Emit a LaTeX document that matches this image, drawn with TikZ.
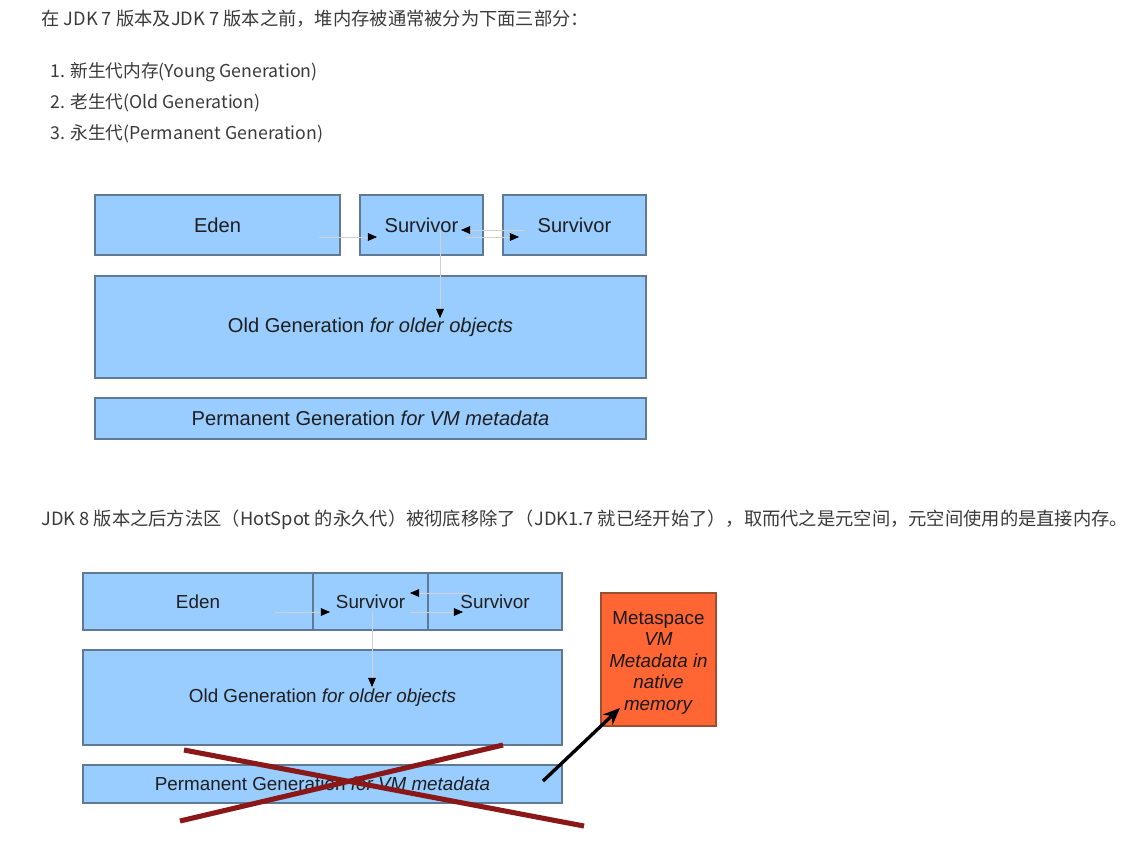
\documentclass[tikz,border=0pt]{standalone}
\usepackage{fontspec}
\setmainfont{Liberation Sans}
\newfontfamily\cjk{Noto Sans CJK SC}
\usepackage{tikz}
\usetikzlibrary{arrows.meta}
\definecolor{heapblue}{HTML}{99CCFF}
\definecolor{heapedge}{HTML}{5F7A94}
\definecolor{metaorange}{HTML}{FF6633}
\definecolor{metaedge}{HTML}{9A5030}
\definecolor{crossred}{HTML}{8B1818}
\definecolor{paragray}{HTML}{3A3A3A}

\begin{document}
\begin{tikzpicture}[x=0.025cm,y=-0.025cm,
		heap/.style={draw=heapedge,fill=heapblue,line width=0.9pt,inner sep=0pt,text=black!88},
		bigtext/.style={font=\fontsize{14.3}{17}\selectfont},
		smalltext/.style={font=\fontsize{13.4}{16}\selectfont},
		para/.style={anchor=west,inner sep=0pt,text=paragray,font=\cjk\fontsize{12.6}{15}\selectfont},
		flow/.style={draw=black!18,line width=0.4pt,-{Triangle[length=6.5pt,width=5.5pt,color=black]}}]
		\useasboundingbox (0,0) rectangle (1128,857);
		% texts
		\node[para,font=\cjk\fontsize{13}{15}\selectfont] (title7) at (41,19) {在 JDK 7 版本及JDK 7 版本之前，堆内存被通常被分为下面三部分：};
		\node[para] (item1) at (50,72) {1. 新生代内存(Young Generation)};
		\node[para] (item2) at (50,103) {2. 老生代(Old Generation)};
		\node[para] (item3) at (50,134) {3. 永生代(Permanent Generation)};
		\node[para,font=\cjk\fontsize{13}{15}\selectfont] (title8) at (41,520) {JDK 8 版本之后方法区（HotSpot 的永久代）被彻底移除了（JDK1.7 就已经开始了），取而代之是元空间，元空间使用的是直接内存。};
		% jdk 7 heap
		\node[heap,bigtext,minimum width=6.125cm,minimum height=1.5cm] (eden7) at (217.5,225) {Eden};
		\node[heap,bigtext,minimum width=3.075cm,minimum height=1.5cm] (survA7) at (421.5,225) {Survivor};
		\node[heap,bigtext,minimum width=3.575cm,minimum height=1.5cm] (survB7) at (574.5,225) {Survivor};
		\node[heap,bigtext,minimum width=13.775cm,minimum height=2.55cm] (old7) at (370.5,327) {Old Generation \textit{for older objects}};
		\node[heap,bigtext,minimum width=13.775cm,minimum height=1.025cm] (perm7) at (370.5,418.5) {Permanent Generation \textit{for VM metadata}};
		% jdk 7 arrows
		\coordinate (edenout7) at (319,237);
		\coordinate (survin7) at (377,237);
		\coordinate (backout7) at (524,230);
		\coordinate (backin7) at (461,230);
		\coordinate (fwdout7) at (466,237);
		\coordinate (fwdin7) at (519,237);
		\coordinate (downout7) at (440,230);
		\coordinate (downin7) at (440,318);
		\draw[flow] (edenout7)--(survin7);
		\draw[flow] (backout7)--(backin7);
		\draw[flow] (fwdout7)--(fwdin7);
		\draw[flow] (downout7)--(downin7);
		% jdk 8 heap
		\node[heap,smalltext,minimum width=5.75cm,minimum height=1.425cm] (eden8) at (198,601.5) {Eden};
		\node[heap,smalltext,minimum width=2.875cm,minimum height=1.425cm] (survA8) at (370.5,601.5) {Survivor};
		\node[heap,smalltext,minimum width=3.35cm,minimum height=1.425cm] (survB8) at (495,601.5) {Survivor};
		\node[heap,smalltext,minimum width=11.975cm,minimum height=2.375cm] (old8) at (322.5,697.5) {Old Generation \textit{for older objects}};
		\node[heap,smalltext,minimum width=11.975cm,minimum height=0.95cm] (perm8) at (322.5,784) {Permanent Generation \textit{for VM metadata}};
		\node[draw=metaedge,fill=metaorange,line width=0.9pt,inner sep=0pt,minimum width=2.875cm,minimum height=3.325cm,
			align=center,font=\fontsize{13.4}{15.3}\selectfont,text=black!90] (meta) at (658.5,659.5)
			{\rule{0pt}{14pt}Metaspace\\\textit{VM}\\\textit{Metadata in}\\\textit{native}\\\textit{memory}};
		% jdk 8 arrows
		\coordinate (edenout8) at (275,612);
		\coordinate (survin8) at (330,612);
		\coordinate (backout8) at (467,593);
		\coordinate (backin8) at (410,593);
		\coordinate (fwdout8) at (410,612);
		\coordinate (fwdin8) at (463,612);
		\coordinate (downout8) at (372,612);
		\coordinate (downin8) at (372,687);
		\draw[flow] (edenout8)--(survin8);
		\draw[flow] (backout8)--(backin8);
		\draw[flow] (fwdout8)--(fwdin8);
		\draw[flow] (downout8)--(downin8);
		% cross out permgen
		\draw[crossred,line width=3.6pt] (184,750)--(584,826);
		\draw[crossred,line width=3.6pt] (180,821)--(503,745);
		% move to metaspace
		\coordinate (permout) at (543,781);
		\coordinate (metain) at (620,708);
		\draw[line width=2.4pt,-{Stealth[length=12pt,width=10pt]}] (permout)--(metain);
	\end{tikzpicture}
\end{document}
